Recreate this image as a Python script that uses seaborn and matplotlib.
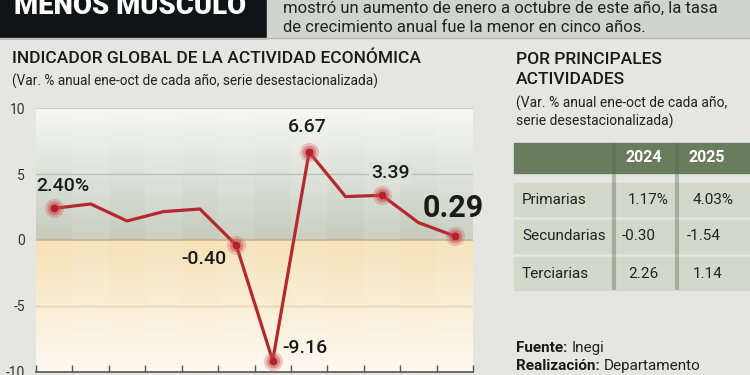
import numpy as np
import pandas as pd
import matplotlib.pyplot as plt
import seaborn as sns
from matplotlib.patches import Rectangle
from matplotlib.colors import LinearSegmentedColormap

# datos
anios = list(range(2014, 2026))
igae = [2.40, 2.73, 1.44, 2.15, 2.35, -0.40, -9.16, 6.67, 3.29, 3.39, 1.32, 0.29]
etiquetas = {2014: '2.40%', 2019: '-0.40', 2020: '-9.16', 2021: '6.67', 2023: '3.39', 2025: '0.29'}

actividades = ['Primarias', 'Secundarias', 'Terciarias']
val_2024 = ['1.17%', '-0.30', '2.26']
val_2025 = ['4.03%', '-1.54', '1.14']

df = pd.DataFrame({'anio': anios, 'igae': igae})
marcados = df[df['anio'].isin(etiquetas.keys())]

sns.set_theme(style='white')
plt.rcParams['font.family'] = ['Roboto', 'DejaVu Sans']

W, H = 750, 375
fondo = '#e5e6e1'
fig = plt.figure(figsize=(7.5, 3.75), dpi=100, facecolor=fondo)

# capa de fondo en pixeles
bg = fig.add_axes([0, 0, 1, 1], zorder=0)
bg.set_xlim(0, W)
bg.set_ylim(H, 0)
bg.axis('off')
bg.add_patch(Rectangle((0, 0), 267, 38, color='#121316'))
bg.add_patch(Rectangle((267, 0), W - 267, 38, color='#d1d4cd'))
bg.plot([0, W], [38, 38], color='#b9bcb5', lw=1)
bg.text(14, 14, 'MENOS MÚSCULO', color='white', fontsize=19.8, fontweight='heavy', va='baseline')
bg.text(283, 8, 'mostró un aumento de enero a octubre de este año, la tasa', fontsize=12, color='#222', va='center')
bg.text(283, 27, 'de crecimiento anual fue la menor en cinco años.', fontsize=12, color='#222', va='center')

bg.text(12, 58, 'INDICADOR GLOBAL DE LA ACTIVIDAD ECONÓMICA', fontsize=12.5, fontweight='medium', color='#1a1a1a', va='center')
bg.text(12, 81, '(Var. % anual ene-oct de cada año, serie desestacionalizada)', fontsize=9.8, color='#222', va='center')

bg.text(516, 60, 'POR PRINCIPALES', fontsize=12.5, fontweight='medium', color='#1a1a1a', va='center')
bg.text(516, 80, 'ACTIVIDADES', fontsize=12.5, fontweight='medium', color='#1a1a1a', va='center')
bg.text(516, 103, '(Var. % anual ene-oct de cada año,', fontsize=10, color='#222', va='center')
bg.text(516, 121, 'serie desestacionalizada)', fontsize=10, color='#222', va='center')

# tabla
verde = '#6a7c5e'
fila = '#d3d9ca'
bg.add_patch(Rectangle((514, 143), W - 514, 30, color=verde))
bg.text(644, 158, '2024', color='white', fontsize=11.5, fontweight='bold', ha='center', va='center')
bg.text(707, 158, '2025', color='white', fontsize=11.5, fontweight='bold', ha='center', va='center')
filas_y = [183, 220, 257]
for i, act in enumerate(actividades):
    y0 = filas_y[i]
    bg.add_patch(Rectangle((514, y0), W - 514, 33, color=fila))
    bg.text(522, y0 + 16.5, act, fontsize=11, color='#222', va='center')
    for xc, v in [(628, val_2024[i]), (693, val_2025[i])]:
        bg.text(xc - (6 if v.startswith('-') else 0), y0 + 16.5, v, fontsize=11, color='#222', va='center')
for xs in [614, 677]:
    bg.plot([xs, xs], [143, 290], color='#4f5e45', lw=3, alpha=0.35, solid_capstyle='butt')

# fuente
fig.canvas.draw()
r = fig.canvas.get_renderer()
for yy, neg, norm in [(348, 'Fuente:', 'Inegi'), (366, 'Realización:', 'Departamento')]:
    t = bg.text(516, yy, neg, fontsize=11, fontweight='bold', color='#1a1a1a', va='center')
    bb = t.get_window_extent(renderer=r)
    bg.text(bb.x1 + 4, yy, norm, fontsize=11, color='#222', va='center')

# grafica principal
ax = fig.add_axes([36 / W, 3.3 / H, 437 / W, 263.5 / H], zorder=1)
ax.patch.set_alpha(0)
x0, x1 = anios[0] - 0.5, anios[-1] + 0.5
ax.set_xlim(x0, x1)
ax.set_ylim(-10, 10)

cm_verde = LinearSegmentedColormap.from_list('v', ['#f6f7f3', '#c4cbbc'])
cm_naranja = LinearSegmentedColormap.from_list('n', ['#f6e1b6', '#fdf9f1'])
grad = np.linspace(0, 1, 100).reshape(-1, 1)
ax.imshow(grad, extent=[x0, x1, 0, 10], cmap=cm_verde, aspect='auto', zorder=0, origin='upper')
ax.imshow(grad, extent=[x0, x1, -10, 0], cmap=cm_naranja, aspect='auto', zorder=0, origin='upper')
for a in anios[1::2]:
    ax.axvspan(a - 0.5, a + 0.5, color='white', alpha=0.1, lw=0, zorder=0.5)

ax.axhline(10, color='#c4c7c0', lw=1.2, zorder=1)
ax.axhline(5, color='#bcc3b5', lw=1, zorder=1)
ax.axhline(0, color='#c8b48e', lw=1.2, zorder=1)
ax.axhline(-5, color='#e6d3ad', lw=1, zorder=1)

sns.lineplot(data=df, x='anio', y='igae', color='#b5282e', lw=2.3, ax=ax, zorder=3)
ax.scatter(marcados['anio'], marcados['igae'], s=190, color='#d45a63', alpha=0.3, lw=0, zorder=4)
ax.scatter(marcados['anio'], marcados['igae'], s=95, color='#c8404a', alpha=0.45, lw=0, zorder=4)
ax.scatter(marcados['anio'], marcados['igae'], s=32, color='#b3232b', lw=0, zorder=5)

# etiquetas de datos
despl = {2014: (0.24, 1.69), 2019: (-0.88, -1.04), 2020: (0.89, 0.98), 2021: (-0.04, 1.89),
         2023: (0.23, 1.69), 2025: (-0.04, 2.13)}
for a, txt in etiquetas.items():
    v = df.loc[df['anio'] == a, 'igae'].iloc[0]
    dx, dy = despl[a]
    grande = a == anios[-1]
    caja = None
    if a == 2023:
        caja = dict(boxstyle='square,pad=0.1', fc=cm_verde(1 - (v + dy) / 10), ec='none')
    ax.text(a + dx, v + dy, txt, ha='center', va='center', zorder=6,
            fontsize=22 if grande else 14, fontweight='bold' if grande else 'medium',
            color='#1a1a1a', clip_on=False, bbox=caja)

ax.set_xlabel('')
ax.set_ylabel('')
ax.set_xticks(np.arange(x0, x1 + 0.01, 1))
ax.set_xticklabels([])
ax.set_yticks([10, 5, 0, -5, -10])
ax.set_yticklabels(['10', '5', '0', '-5', '-10'])
ax.tick_params(axis='x', direction='in', length=5, width=1, color='#555', bottom=True)
ax.tick_params(axis='y', length=0, pad=8, labelsize=10, labelcolor='#333')
for s in ['top', 'right', 'left']:
    ax.spines[s].set_visible(False)
ax.spines['bottom'].set_color('#555')
ax.spines['bottom'].set_linewidth(1.2)

fig.savefig('out.png', dpi=100, facecolor=fondo)
